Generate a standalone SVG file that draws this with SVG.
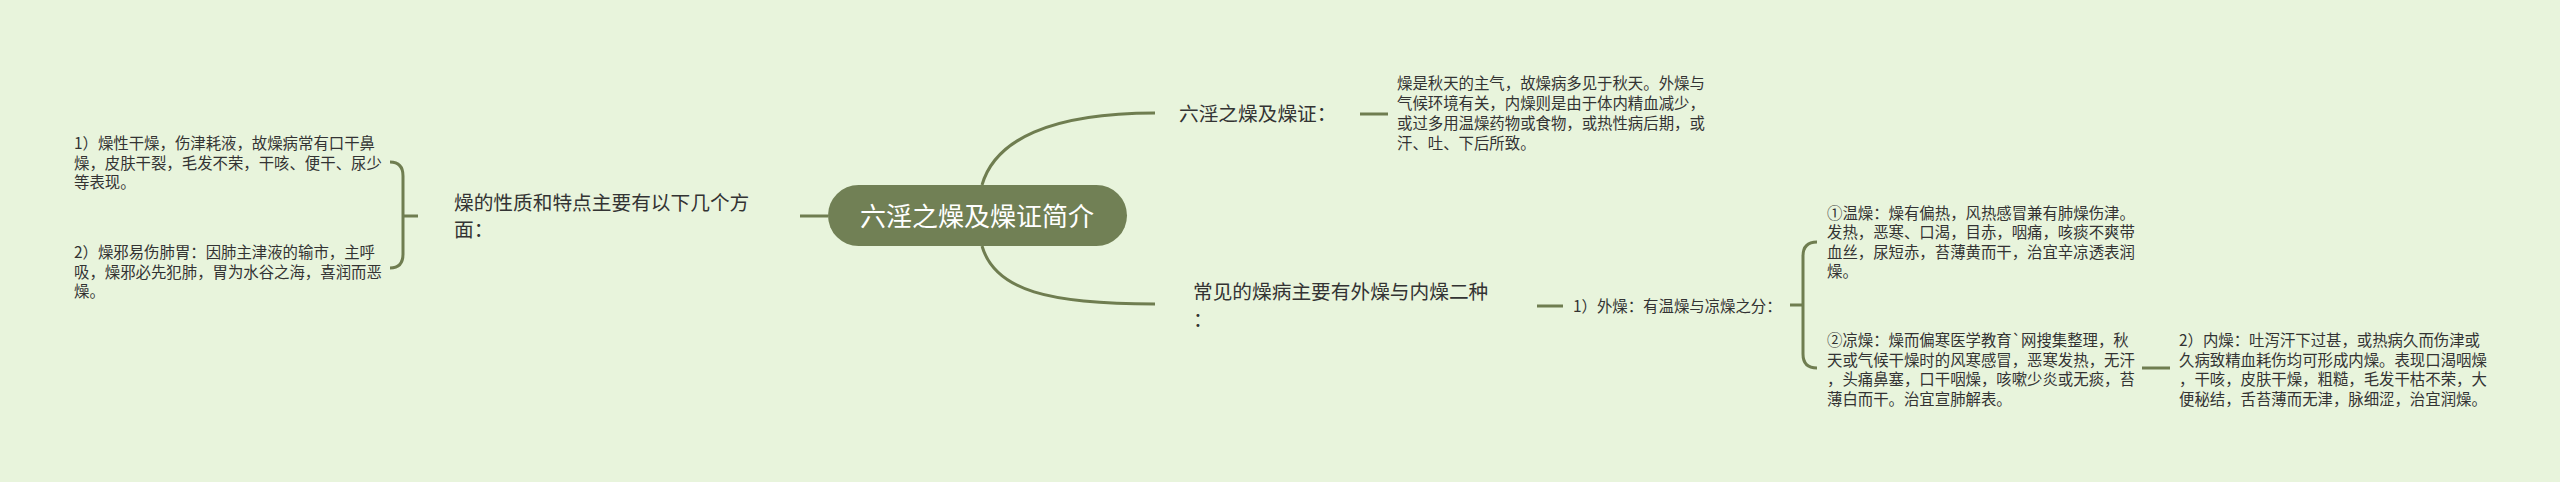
<svg xmlns="http://www.w3.org/2000/svg" width="2560" height="482" viewBox="0 0 2560 482">
<style>
text{font-family:"Noto Sans CJK SC","Noto Sans",sans-serif;fill:#333333}
.leaf{font-size:15.4px}
.sub{font-size:19.7px}
.root{font-size:26px;fill:#ffffff}
.ln{fill:none;stroke:#6f7d50;stroke-width:3;stroke-linecap:butt}
</style>
<rect x="0" y="0" width="2560" height="482" fill="#e8f4dc"/>
<g id="connectors">
<path class="ln" d="M828,216 L800,216"/>
<path class="ln" d="M982,185 C995,140 1050,113 1155,113"/>
<path class="ln" d="M982,246 C995,291 1050,304 1155,304"/>
<path class="ln" d="M418,216 L403,216"/>
<path class="ln" d="M390,162 Q403,162 403,176 L403,254 Q403,268 390,268"/>
<path class="ln" d="M1360,114 L1388,114"/>
<path class="ln" d="M1537,306 L1563,306"/>
<path class="ln" d="M1790,305 L1803,305"/>
<path class="ln" d="M1817,242 Q1803,242 1803,256 L1803,354 Q1803,368 1817,368"/>
<path class="ln" d="M2142,368 L2170,368"/>
</g>
<g id="root">
<rect x="828" y="185" width="299" height="61" rx="30.5" fill="#718055"/>
<text class="root" x="977" y="226" text-anchor="middle">六淫之燥及燥证简介</text>
</g>
<g id="node-left">
<text class="sub" x="454"><tspan x="454" y="210">燥的性质和特点主要有以下几个方</tspan><tspan x="454" y="237">面：</tspan></text>
</g>
<g id="leaf-left-1">
<text class="leaf"><tspan x="74" y="149">1）燥性干燥，伤津耗液，故燥病常有口干鼻</tspan><tspan x="74" y="168.5">燥，皮肤干裂，毛发不荣，干咳、便干、尿少</tspan><tspan x="74" y="188">等表现。</tspan></text>
</g>
<g id="leaf-left-2">
<text class="leaf"><tspan x="74" y="258">2）燥邪易伤肺胃：因肺主津液的输市，主呼</tspan><tspan x="74" y="277.5">吸，燥邪必先犯肺，胃为水谷之海，喜润而恶</tspan><tspan x="74" y="297">燥。</tspan></text>
</g>
<g id="node-top">
<text class="sub" x="1179" y="121">六淫之燥及燥证：</text>
</g>
<g id="leaf-top">
<text class="leaf"><tspan x="1397" y="89">燥是秋天的主气，故燥病多见于秋天。外燥与</tspan><tspan x="1397" y="109">气候环境有关，内燥则是由于体内精血减少，</tspan><tspan x="1397" y="129">或过多用温燥药物或食物，或热性病后期，或</tspan><tspan x="1397" y="149">汗、吐、下后所致。</tspan></text>
</g>
<g id="node-bottom">
<text class="sub"><tspan x="1193" y="299">常见的燥病主要有外燥与内燥二种</tspan><tspan x="1193" y="327">：</tspan></text>
</g>
<g id="node-waizao">
<text class="leaf" x="1573" y="311.5">1）外燥：有温燥与凉燥之分：</text>
</g>
<g id="leaf-wenzao">
<text class="leaf"><tspan x="1827" y="218.5">①温燥：燥有偏热，风热感冒兼有肺燥伤津。</tspan><tspan x="1827" y="238">发热，恶寒、口渴，目赤，咽痛，咳痰不爽带</tspan><tspan x="1827" y="257.5">血丝，尿短赤，苔薄黄而干，治宜辛凉透表润</tspan><tspan x="1827" y="277">燥。</tspan></text>
</g>
<g id="leaf-liangzao">
<text class="leaf"><tspan x="1827" y="346">②凉燥：燥而偏寒医学教育`网搜集整理，秋</tspan><tspan x="1827" y="365.5">天或气候干燥时的风寒感冒，恶寒发热，无汗</tspan><tspan x="1827" y="385">，头痛鼻塞，口干咽燥，咳嗽少炎或无痰，苔</tspan><tspan x="1827" y="404.5">薄白而干。治宜宣肺解表。</tspan></text>
</g>
<g id="leaf-neizao">
<text class="leaf"><tspan x="2179" y="346">2）内燥：吐泻汗下过甚，或热病久而伤津或</tspan><tspan x="2179" y="365.5">久病致精血耗伤均可形成内燥。表现口渴咽燥</tspan><tspan x="2179" y="385">，干咳，皮肤干燥，粗糙，毛发干枯不荣，大</tspan><tspan x="2179" y="404.5">便秘结，舌苔薄而无津，脉细涩，治宜润燥。</tspan></text>
</g>
</svg>
